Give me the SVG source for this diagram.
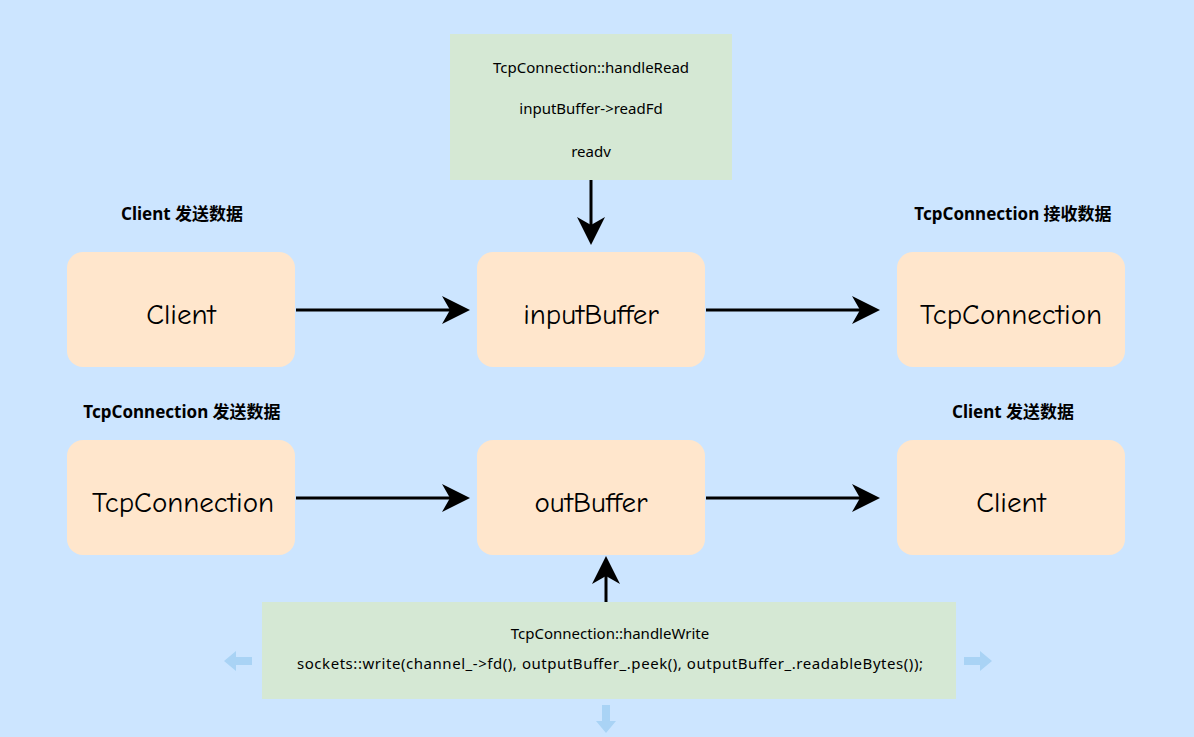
<svg xmlns="http://www.w3.org/2000/svg" width="1194" height="737" viewBox="0 0 1194 737">
<style>
.node{fill:#ffe6cc;}
.code{fill:#d5e8d4;}
.nt{font-family:"Comic Neue","Noto Sans","DejaVu Sans",sans-serif;font-size:29px;fill:#000;text-anchor:middle;dominant-baseline:central;}
.ct{font-family:"Noto Sans","DejaVu Sans",sans-serif;font-size:15px;fill:#000;text-anchor:middle;dominant-baseline:central;}
.lb{font-family:"Noto Sans","Noto Sans CJK SC",sans-serif;font-size:17px;font-weight:bold;fill:#000;text-anchor:middle;dominant-baseline:central;}
.ln{stroke:#000;stroke-width:3;fill:none;}
.hd{fill:#000;}
.ghost{fill:#a9d3f5;}
</style>
<rect width="1194" height="737" fill="#cce5ff"/>
<g id="labels">
<text class="lb" x="182" y="213">Client 发送数据</text>
<text class="lb" x="1013" y="213">TcpConnection 接收数据</text>
<text class="lb" x="182" y="411">TcpConnection 发送数据</text>
<text class="lb" x="1013" y="411">Client 发送数据</text>
</g>
<g id="handleRead">
<rect class="code" x="450" y="34" width="282" height="146"/>
<text class="ct" x="591" y="67">TcpConnection::handleRead</text>
<text class="ct" x="591" y="108">inputBuffer-&gt;readFd</text>
<text class="ct" x="591" y="151">readv</text>
</g>
<g id="handleWrite">
<rect class="code" x="262" y="602" width="694" height="97"/>
<text class="ct" x="610" y="633">TcpConnection::handleWrite</text>
<text class="ct" x="610" y="663" textLength="626">sockets::write(channel_-&gt;fd(), outputBuffer_.peek(), outputBuffer_.readableBytes());</text>
</g>
<g id="client1"><rect class="node" x="67" y="252" width="228" height="115" rx="16"/><text class="nt" x="181" y="314">Client</text></g>
<g id="inputBuffer"><rect class="node" x="477" y="252" width="228" height="115" rx="16"/><text class="nt" x="591" y="314">inputBuffer</text></g>
<g id="tcp1"><rect class="node" x="897" y="252" width="228" height="115" rx="16"/><text class="nt" x="1011" y="314">TcpConnection</text></g>
<g id="tcp2"><rect class="node" x="67" y="440" width="228" height="115" rx="16"/><text class="nt" x="183" y="502">TcpConnection</text></g>
<g id="outBuffer"><rect class="node" x="477" y="440" width="228" height="115" rx="16"/><text class="nt" x="591" y="502">outBuffer</text></g>
<g id="client2"><rect class="node" x="897" y="440" width="228" height="115" rx="16"/><text class="nt" x="1011" y="502">Client</text></g>
<g id="connectors">
<line class="ln" x1="296" y1="310" x2="455" y2="310"/>
<path class="hd" d="M470,310 L442,296 L450,310 L442,324 Z"/>
<line class="ln" x1="706" y1="310" x2="865" y2="310"/>
<path class="hd" d="M880,310 L852,296 L860,310 L852,324 Z"/>
<line class="ln" x1="296" y1="498" x2="455" y2="498"/>
<path class="hd" d="M470,498 L442,484 L450,498 L442,512 Z"/>
<line class="ln" x1="706" y1="498" x2="865" y2="498"/>
<path class="hd" d="M880,498 L852,484 L860,498 L852,512 Z"/>
<line class="ln" x1="591" y1="180" x2="591" y2="230"/>
<path class="hd" d="M591,245 L577,217 L591,225 L605,217 Z"/>
<line class="ln" x1="606" y1="602" x2="606" y2="572"/>
<path class="hd" d="M606,556 L592,584 L606,576 L620,584 Z"/>
</g>
<g id="hover-arrows">
<path class="ghost" d="M224,661 L236,651 L236,657 L252,657 L252,665 L236,665 L236,671 Z"/>
<path class="ghost" d="M992,661 L980,651 L980,657 L964,657 L964,665 L980,665 L980,671 Z"/>
<path class="ghost" d="M606,733 L596,721 L602,721 L602,705 L610,705 L610,721 L616,721 Z"/>
</g>
</svg>
